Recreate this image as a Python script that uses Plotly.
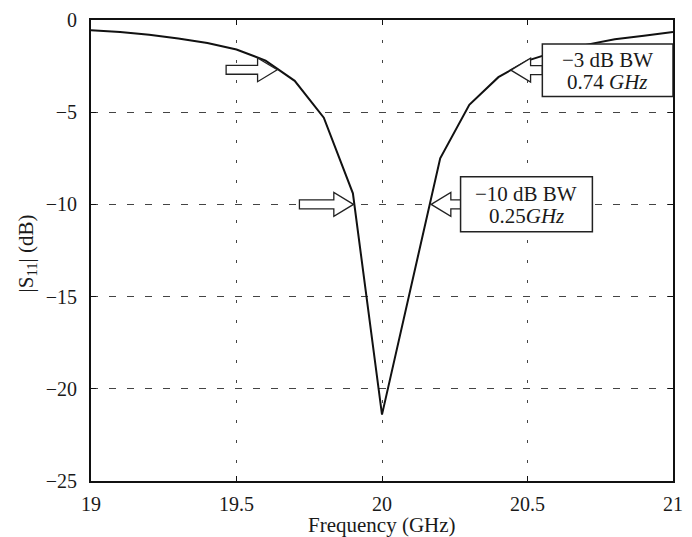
import plotly.graph_objects as go

# ---- data ----
freq_ghz = [19.0, 19.1, 19.2, 19.3, 19.4, 19.5, 19.6, 19.7, 19.8, 19.9, 20.0,
            20.1, 20.2, 20.3, 20.4, 20.5, 20.6, 20.7, 20.8, 20.9, 21.0]
s11_db = [-0.55, -0.65, -0.8, -1.0, -1.25, -1.6, -2.2, -3.3, -5.3, -9.4, -21.4,
          -14.5, -7.5, -4.6, -3.1, -2.2, -1.7, -1.35, -1.05, -0.85, -0.65]

x_ticks = [19, 19.5, 20, 20.5, 21]
x_tick_text = ["19", "19.5", "20", "20.5", "21"]
y_ticks = [0, -5, -10, -15, -20, -25]

# annotation points (arrow tips) : (freq, level, direction)
arrow_tips = [(19.64, -2.7, "right"), (19.902, -10.0, "right"),
              (20.169, -10.0, "left"), (20.443, -2.72, "left")]
arrow_lengths_px = [52, 55, 30, 32]
box_line1 = ["\u22123 dB BW", "\u221210 dB BW"]
box_line2 = ["0.74 <i>GHz</i>", "0.25<i>GHz</i>"]
box_extents = [(20.551, 21.0, -1.3, -4.15), (20.27, 20.723, -8.5, -11.48)]

# ---- layout geometry ----
W, H = 692, 537
ML, MR, MT, MB = 91, 9, 17, 56
XR = (19, 21)
YR = (-25, 0)
px_x = (W - ML - MR) / (XR[1] - XR[0])
px_y = (H - MT - MB) / (YR[1] - YR[0])

SERIF = "Liberation Serif"
TXT = "#1a1a1a"

fig = go.Figure()
fig.add_trace(go.Scatter(x=freq_ghz, y=s11_db, mode="lines",
                         line=dict(color="#111111", width=2), hoverinfo="skip",
                         showlegend=False))


def block_arrow(tx, ty, direction, length, head_len=20, shaft_h=4.5, head_h=12):
    s = 1 if direction == "right" else -1
    dx = lambda p: p / px_x
    dy = lambda p: p / px_y
    pts = [
        (tx, ty),
        (tx - s * dx(head_len), ty + dy(head_h)),
        (tx - s * dx(head_len), ty + dy(shaft_h)),
        (tx - s * dx(length), ty + dy(shaft_h)),
        (tx - s * dx(length), ty - dy(shaft_h)),
        (tx - s * dx(head_len), ty - dy(shaft_h)),
        (tx - s * dx(head_len), ty - dy(head_h)),
    ]
    return "M " + " L ".join(f"{x:.5f},{y:.5f}" for x, y in pts) + " Z"


shapes = []
for (tx, ty, d), ln in zip(arrow_tips, arrow_lengths_px):
    shapes.append(dict(type="path", path=block_arrow(tx, ty, d, ln), xref="x", yref="y",
                       line=dict(color="#222222", width=1.3), fillcolor="white",
                       layer="above"))
for (x0, x1, y0, y1) in box_extents:
    shapes.append(dict(type="rect", x0=x0, x1=x1, y0=y0, y1=y1, xref="x", yref="y",
                       line=dict(color="#222222", width=1.5), fillcolor="white",
                       layer="above"))

annotations = []
for t1, t2, (x0, x1, y0, y1) in zip(box_line1, box_line2, box_extents):
    cx, cy = (x0 + x1) / 2, (y0 + y1) / 2
    annotations.append(dict(x=cx, y=cy, xref="x", yref="y", yshift=10,
                            text=t1, showarrow=False, xanchor="center", yanchor="middle",
                            font=dict(family=SERIF, size=21, color=TXT)))
    annotations.append(dict(x=cx, y=cy, xref="x", yref="y", yshift=-12,
                            text=t2, showarrow=False, xanchor="center", yanchor="middle",
                            font=dict(family=SERIF, size=21, color=TXT)))

annotations.append(dict(text="|S<sub>11</sub>| (dB)", xref="paper", yref="paper",
                        x=0, y=0.4935, xshift=-64, textangle=-90, showarrow=False,
                        xanchor="center", yanchor="middle",
                        font=dict(family=SERIF, size=21, color=TXT)))
annotations.append(dict(text="Frequency (GHz)", xref="paper", yref="paper",
                        x=0.5, y=0, yshift=-44, showarrow=False,
                        xanchor="center", yanchor="middle",
                        font=dict(family=SERIF, size=21, color=TXT)))

axis_common = dict(showline=True, linecolor="#111111", linewidth=2, mirror="ticks",
                   ticks="inside", ticklen=5, tickcolor="#111111", tickwidth=1,
                   showgrid=True, gridcolor="#444444", gridwidth=1, zeroline=False)

fig.update_layout(
    width=W, height=H,
    margin=dict(l=ML, r=MR, t=MT, b=MB),
    paper_bgcolor="white", plot_bgcolor="white",
    xaxis=dict(range=list(XR), tickvals=x_ticks, ticktext=x_tick_text,
               griddash="3px,17px", ticklabelstandoff=4,
               tickfont=dict(family=SERIF, size=20, color=TXT),
               **axis_common),
    yaxis=dict(range=list(YR), tickvals=y_ticks, griddash="7px,11px",
               ticklabelstandoff=8,
               tickfont=dict(family=SERIF, size=20, color=TXT),
               **axis_common),
    shapes=shapes,
    annotations=annotations,
)

fig.write_html("out.html",
               config={"displayModeBar": False},
               post_script="document.body.style.margin='0';"
                           "document.documentElement.style.overflow='hidden';")
